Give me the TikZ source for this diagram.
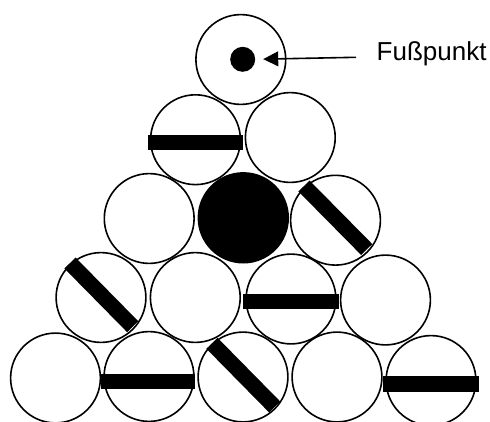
\documentclass[tikz,border=0pt]{standalone}
\usepackage{fontspec}
\setmainfont{Liberation Sans}
\usetikzlibrary{arrows.meta}
\tikzset{
  every picture/.style={x=1pt,y=-1pt},
  ball/.style={circle,draw=black,line width=1.6pt,minimum size=89.8pt,inner sep=0pt,outer sep=0pt},
  solidball/.style={circle,fill=black,draw=black,line width=1.6pt,minimum size=89.8pt,inner sep=0pt,outer sep=0pt},
  footdot/.style={circle,fill=black,minimum size=25pt,inner sep=0pt,outer sep=0pt},
  bar/.style={line width=15.6pt,draw=black,line cap=butt},
  pointer/.style={draw=black,line width=1.6pt,-{Triangle[length=15pt,width=14.7pt]},shorten >=8pt},
  caption/.style={anchor=base west,inner sep=0pt,outer sep=0pt,font=\fontsize{26}{30}\selectfont}
}
\begin{document}
\begin{tikzpicture}
\useasboundingbox (0,0) rectangle (490,421);
% balls
\node[ball] (top) at (240.8,59.5) {};
\node[ball] (r2a) at (195.5,139.7) {};
\node[ball] (r2b) at (290.3,137.5) {};
\node[ball] (r3a) at (149.2,218.5) {};
\node[solidball] (r3b) at (243.3,217.8) {};
\node[ball] (r3c) at (335.5,220.2) {};
\node[ball] (r4a) at (101,297.5) {};
\node[ball] (r4b) at (195.3,297.5) {};
\node[ball] (r4c) at (291,299) {};
\node[ball] (r4d) at (385.5,300) {};
\node[ball] (r5a) at (55.5,378) {};
\node[ball] (r5b) at (149,376.5) {};
\node[ball] (r5c) at (243,377) {};
\node[ball] (r5d) at (337,377) {};
\node[ball] (r5e) at (431,380.5) {};
% bar end points
\coordinate (b1s) at (147.7,142.3); \coordinate (b1e) at (243.3,142.3);
\coordinate (b2s) at (304,186);     \coordinate (b2e) at (366.7,249.5);
\coordinate (b3s) at (70,263);      \coordinate (b3e) at (132.7,326.7);
\coordinate (b4s) at (243.3,301.3); \coordinate (b4e) at (339,301.3);
\coordinate (b5s) at (100.7,381.3); \coordinate (b5e) at (195,381.3);
\coordinate (b6s) at (212,343.3);   \coordinate (b6e) at (274.7,407);
\coordinate (b7s) at (383.3,383.7); \coordinate (b7e) at (479,383.7);
\draw[bar] (b1s) -- (b1e);
\draw[bar] (b2s) -- (b2e);
\draw[bar] (b3s) -- (b3e);
\draw[bar] (b4s) -- (b4e);
\draw[bar] (b5s) -- (b5e);
\draw[bar] (b6s) -- (b6e);
\draw[bar] (b7s) -- (b7e);
% foot point
\node[footdot] (dot) at (242.7,59.3) {};
\node[caption] (label) at (376.7,60) {Fußpunkt};
\coordinate (tail) at (356,57.3);
\draw[pointer] (tail) -- (dot.east);
\end{tikzpicture}
\end{document}
